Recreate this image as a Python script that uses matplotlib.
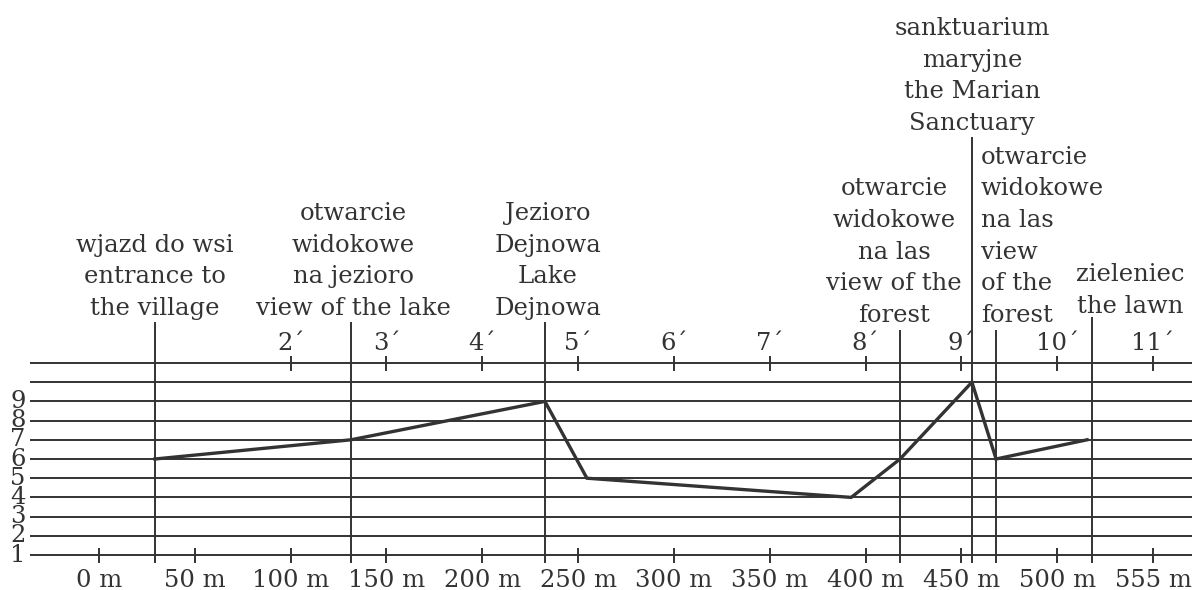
import matplotlib
matplotlib.use('Agg')
import matplotlib.pyplot as plt

# dane profilu trasy
metre_ticks = [0, 50, 100, 150, 200, 250, 300, 350, 400, 450, 500, 550]
metre_labels = ['0 m', '50 m', '100 m', '150 m', '200 m', '250 m', '300 m',
                '350 m', '400 m', '450 m', '500 m', '555 m']
minute_ticks = [100, 150, 200, 250, 300, 350, 400, 450, 500, 550]
minute_labels = ['2´', '3´', '4´', '5´', '6´', '7´', '8´', '9´', '10´', '11´']
level_labels = [1, 2, 3, 4, 5, 6, 7, 8, 9]
grid_levels = [1, 2, 3, 4, 5, 6, 7, 8, 9, 10, 11]

profile_m = [29.2, 131.5, 232.7, 254.6, 392.5, 418.0, 455.5, 468.1, 515.6]
profile_level = [6, 7, 9, 5, 4, 6, 10, 6, 7]

marker_m = [29.2, 131.5, 232.7, 418.0, 455.5, 468.1, 518.2]
marker_text = [
    'wjazd do wsi\nentrance to\nthe village',
    'otwarcie\nwidokowe\nna jezioro\nview of the lake',
    'Jezioro\nDejnowa\nLake\nDejnowa',
    'otwarcie\nwidokowe\nna las\nview of the\nforest',
    'sanktuarium\nmaryjne\nthe Marian\nSanctuary',
    'otwarcie\nwidokowe\nna las\nview\nof the\nforest',
    'zieleniec\nthe lawn',
]

# uklad (piksele obrazka 1192x590)
PX_M = 1.9164   # px na metr
PX_LVL = 19.2   # px na poziom
X0 = 99         # px dla 0 m
Y1 = 555        # px dla poziomu 1
LINE_H = 31.7   # odstep wierszy w px


def lvl(ypx):
    return 1 + (Y1 - ypx) / PX_LVL


# gorna krawedz linii znacznika, baseline ostatniego wiersza, przesuniecie x, wyrownanie
marker_top = [322, 322, 322, 330, 137, 330, 317]
text_base = [315, 315, 315, 322, 130, 322, 313]
text_dx = [0, 2, 3, -6, 0, -15, 38]
text_ha = ['center', 'center', 'center', 'center', 'center', 'left', 'center']

col = '#333333'
plt.rcParams['font.family'] = ['DejaVu Serif']
fs = 17.5

fig = plt.figure(figsize=(11.92, 5.9), dpi=100)
ax = fig.add_axes([0, 0, 1, 1])
ax.set_xlim(-X0 / PX_M, (1192 - X0) / PX_M)
ax.set_ylim(lvl(590), lvl(0))
ax.axis('off')

# linie poziome
ax.hlines(grid_levels, (30 - X0) / PX_M, (1192 - X0) / PX_M, color=col, lw=1.4)

# znaczniki dolne i gorne
ax.vlines(metre_ticks, lvl(563), lvl(548), color=col, lw=1.4)
ax.vlines(minute_ticks, lvl(371), lvl(356), color=col, lw=1.4)

for x, t in zip(metre_ticks, metre_labels):
    ax.text(x, lvl(587), t, ha='center', va='baseline', fontsize=fs, color=col)
for x, t in zip(minute_ticks, minute_labels):
    ax.text(x, lvl(350), t, ha='center', va='baseline', fontsize=fs, color=col)
for v in level_labels:
    ax.text((18 - X0) / PX_M, v, str(v), ha='center', va='center', fontsize=fs, color=col)

# linie miejsc
for x, top in zip(marker_m, marker_top):
    ax.vlines(x, lvl(563), lvl(top), color=col, lw=1.4)

# opisy miejsc
for x, t, base, dx, ha in zip(marker_m, marker_text, text_base, text_dx, text_ha):
    lines = t.split('\n')
    n = len(lines)
    for i, s in enumerate(lines):
        ypx = base - (n - 1 - i) * LINE_H
        ax.text(x + dx / PX_M, lvl(ypx), s, ha=ha, va='baseline', fontsize=fs, color=col)

# profil
ax.plot(profile_m, profile_level, color='#333333', lw=2.4, solid_joinstyle='miter')

fig.savefig('out.png', dpi=100)
